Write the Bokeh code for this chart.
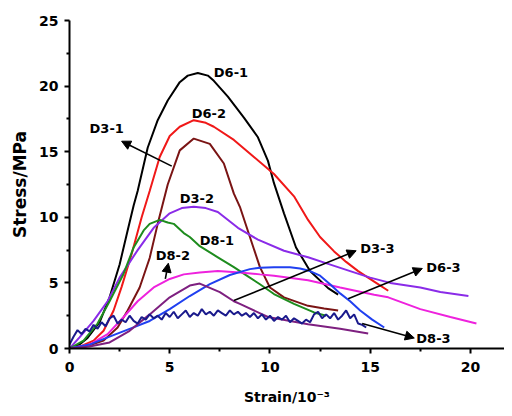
from bokeh.plotting import figure
from bokeh.models import Range1d, FixedTicker, Arrow, NormalHead, ColumnDataSource
from bokeh.core.properties import value
from bokeh.embed import file_html
from bokeh.resources import INLINE

# ---- data (strain in 1e-3, stress in MPa) ----
d61_x = [0, 0.5, 0.9, 1.5, 2.0, 2.5, 2.9, 3.2, 3.4, 3.9, 4.4, 4.9, 5.5, 5.9, 6.4, 6.9, 7.2, 7.9, 8.7, 9.4, 9.9, 10.2, 10.7, 11.3, 12.0, 12.9, 13.4]
d61_y = [0, 0.3, 0.8, 2.0, 3.9, 6.4, 9.0, 10.9, 12.0, 15.3, 17.4, 18.9, 20.3, 20.8, 21.0, 20.8, 20.4, 19.2, 17.6, 16.1, 14.3, 12.6, 10.3, 7.7, 5.9, 4.6, 4.1]

d62_x = [0, 0.6, 1.2, 1.7, 2.2, 2.6, 3.1, 3.6, 4.0, 4.5, 5.0, 5.5, 6.2, 6.8, 7.2, 8.2, 9.2, 10.2, 11.2, 11.9, 12.5, 13.2, 13.8, 14.4, 15.2, 15.9]
d62_y = [0, 0.2, 0.6, 1.35, 2.9, 4.7, 7.2, 10.0, 12.0, 14.6, 16.2, 16.9, 17.4, 17.2, 16.9, 15.9, 14.6, 13.3, 11.6, 9.8, 8.5, 7.4, 6.6, 5.9, 5.1, 4.4]

d31_x = [0, 0.8, 1.7, 2.4, 2.9, 3.5, 4.0, 4.4, 4.9, 5.5, 6.2, 7.0, 7.7, 8.2, 8.5, 9.0, 9.5, 10.0, 10.7, 11.9, 12.7, 13.4]
d31_y = [0, 0.15, 0.6, 1.6, 2.9, 4.65, 6.9, 9.5, 12.5, 15.1, 16.0, 15.6, 14.1, 11.8, 10.8, 8.5, 6.2, 4.65, 3.9, 3.25, 3.05, 2.9]

d32_x = [0, 0.5, 1.2, 1.9, 2.5, 3.4, 4.2, 5.0, 5.6, 6.2, 6.8, 7.4, 8.4, 9.4, 10.7, 11.9, 12.9, 14.0, 15.0, 16.0, 17.5, 18.5, 19.9]
d32_y = [0, 0.85, 2.1, 3.6, 5.4, 7.5, 9.2, 10.3, 10.7, 10.8, 10.7, 10.4, 9.2, 8.3, 7.45, 6.95, 6.45, 5.9, 5.4, 5.0, 4.65, 4.3, 4.0]

d81_x = [0, 0.7, 1.4, 2.0, 2.7, 3.2, 3.7, 4.0, 4.5, 4.9, 5.2, 5.7, 6.0, 6.5, 7.4, 8.2, 8.9, 9.5, 10.2, 11.2, 12.2, 12.8]
d81_y = [0, 0.6, 1.9, 3.6, 5.7, 7.7, 9.0, 9.5, 9.8, 9.6, 9.5, 8.8, 8.5, 7.8, 6.95, 6.2, 5.5, 4.9, 4.15, 3.4, 2.75, 2.5]

d82_x = [0, 1.0, 1.9, 2.7, 3.4, 4.2, 5.0, 5.7, 6.5, 7.4, 8.5, 9.5, 10.2, 11.9, 13.5, 15.2, 15.9, 17.5, 19.0, 20.3]
d82_y = [0, 0.3, 1.1, 2.4, 3.6, 4.65, 5.3, 5.65, 5.8, 5.9, 5.8, 5.65, 5.55, 5.2, 4.65, 4.1, 3.9, 3.0, 2.4, 1.9]

d63_x = [0, 1.0, 2.0, 3.0, 4.0, 5.0, 6.0, 7.0, 8.0, 9.0, 9.5, 10.2, 11.0, 11.5, 12.0, 12.5, 13.0, 13.5, 14.0, 14.5, 15.1, 15.7]
d63_y = [0, 0.3, 0.9, 1.5, 2.1, 3.0, 4.0, 4.9, 5.6, 6.05, 6.15, 6.2, 6.2, 6.1, 5.9, 5.55, 4.9, 4.2, 3.6, 2.9, 2.2, 1.6]

d33_x = [0, 1.0, 2.0, 3.0, 4.0, 5.0, 6.0, 6.5, 7.5, 8.2, 8.5, 9.9, 11.9, 13.5, 14.9]
d33_y = [0, 0.15, 0.46, 1.35, 2.6, 3.9, 4.8, 4.95, 4.3, 3.6, 3.4, 2.4, 1.85, 1.5, 1.15]

d83_x = [0.0, 0.2, 0.4, 0.6, 0.8, 1.0, 1.2, 1.4, 1.6, 1.8, 2.0, 2.2, 2.4, 2.6, 2.8, 3.0, 3.2, 3.4, 3.6, 3.8,
         4.0, 4.2, 4.4, 4.6, 4.8, 5.0, 5.2, 5.4, 5.6, 5.8, 6.0, 6.2, 6.4, 6.6, 6.8, 7.0, 7.2, 7.4, 7.6, 7.8,
         8.0, 8.2, 8.4, 8.6, 8.8, 9.0, 9.2, 9.4, 9.6, 9.8, 10.0, 10.2, 10.4, 10.6, 10.8, 11.0, 11.2, 11.4, 11.6, 11.8,
         12.0, 12.2, 12.4, 12.6, 12.8, 13.0, 13.2, 13.4, 13.6, 13.8, 14.0, 14.2, 14.4, 14.6, 14.8]
d83_y = [0.3, 0.9, 1.4, 1.1, 1.5, 1.3, 1.8, 1.5, 2.0, 1.7, 2.3, 2.5, 1.9, 2.2, 2.0, 2.5, 2.1, 1.9, 2.4, 2.2,
         2.6, 2.3, 2.5, 2.2, 2.7, 2.4, 2.8, 2.3, 2.6, 2.9, 2.4, 2.7, 2.5, 3.0, 2.6, 2.8, 2.5, 2.9, 2.7, 2.5,
         2.9, 2.6, 2.8, 2.5, 2.7, 2.4, 2.7, 2.3, 2.6, 2.2, 2.5, 2.1, 2.4, 2.2, 2.5, 2.0, 2.3, 2.1, 1.9, 2.2,
         2.0, 2.6, 2.8, 2.3, 2.6, 2.3, 2.7, 2.2, 2.5, 2.9, 2.3, 2.6, 1.9, 1.8, 1.6]

x_ticks = [0, 5, 10, 15, 20]
y_ticks = [0, 5, 10, 15, 20, 25]

label_text = ["D6-1", "D6-2", "D3-1", "D3-2", "D8-1", "D8-2", "D3-3", "D6-3", "D8-3"]
label_x = [7.2, 6.1, 1.0, 5.5, 6.5, 4.3, 14.5, 17.8, 17.3]
label_y = [21.0, 17.9, 16.8, 11.4, 8.2, 7.1, 7.6, 6.2, 0.8]

# arrows: (x_start, y_start, x_end, y_end)
arrows = [
    (5.1, 13.9, 2.6, 15.8),
    (4.78, 5.3, 4.93, 6.5),
    (8.2, 3.65, 14.3, 7.45),
    (13.9, 3.8, 17.6, 6.1),
    (14.6, 1.9, 17.2, 0.8),
]

series = [
    (d61_x, d61_y, "#000000"),
    (d62_x, d62_y, "#F01818"),
    (d31_x, d31_y, "#7A1414"),
    (d32_x, d32_y, "#8A2BE8"),
    (d81_x, d81_y, "#1E8C1E"),
    (d82_x, d82_y, "#EE22DD"),
    (d63_x, d63_y, "#2040F0"),
    (d33_x, d33_y, "#7E2080"),
    (d83_x, d83_y, "#1A1A8C"),
]

FONT = "DejaVu Sans"

p = figure(width=504, height=409, output_backend="svg", toolbar_location=None,
           x_range=Range1d(0, 21.7), y_range=Range1d(0, 25),
           min_border_left=69, min_border_right=0, min_border_top=20, min_border_bottom=61)
p.outline_line_color = None
p.xgrid.visible = False
p.ygrid.visible = False
p.background_fill_color = "white"

for xs, ys, c in series:
    p.line(xs, ys, line_color=c, line_width=2)

for (xs0, ys0, xe, ye) in arrows:
    p.add_layout(Arrow(end=NormalHead(size=9, fill_color="black", line_color="black"),
                       x_start=xs0, y_start=ys0, x_end=xe, y_end=ye,
                       line_color="black", line_width=1.6))

src = ColumnDataSource(dict(x=label_x, y=label_y, t=label_text))
p.text(x="x", y="y", text="t", source=src, text_font=value(FONT), text_font_style="bold",
       text_font_size="13px", text_baseline="middle", text_align="left", text_color="black")

p.xaxis.ticker = FixedTicker(ticks=x_ticks, minor_ticks=[2.5, 7.5, 12.5, 17.5])
p.yaxis.ticker = FixedTicker(ticks=y_ticks, minor_ticks=[2.5, 7.5, 12.5, 17.5, 22.5])

for ax in (p.xaxis[0], p.yaxis[0]):
    ax.axis_line_width = 2
    ax.axis_line_color = "black"
    ax.major_tick_line_width = 2
    ax.minor_tick_line_width = 2
    ax.major_tick_out = 5
    ax.major_tick_in = 0
    ax.minor_tick_out = 3
    ax.minor_tick_in = 0
    ax.major_label_text_font = FONT
    ax.major_label_text_font_style = "bold"
    ax.major_label_text_font_size = "14px"
    ax.major_label_text_color = "black"
    ax.axis_label_text_font = FONT
    ax.axis_label_text_font_style = "bold"
    ax.axis_label_text_color = "black"

p.xaxis.major_label_standoff = 8
p.yaxis.major_label_standoff = 6
p.xaxis.axis_label = "Strain/10⁻³"
p.xaxis.axis_label_text_font_size = "14px"
p.xaxis.axis_label_standoff = 14
p.yaxis.axis_label = "Stress/MPa"
p.yaxis.axis_label_text_font_size = "17px"
p.yaxis.axis_label_standoff = 6

open("out.html", "w").write(file_html(p, INLINE))
